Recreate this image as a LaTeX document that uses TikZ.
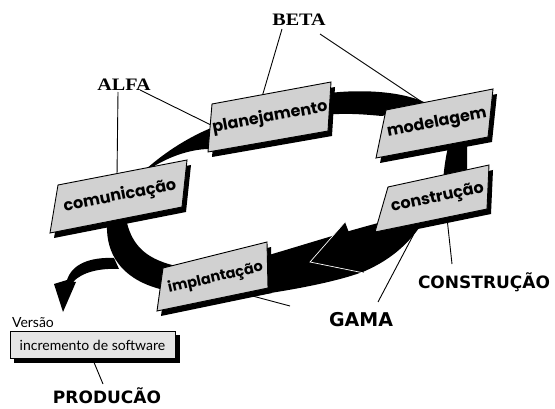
\documentclass[tikz,border=0pt]{standalone}
\usepackage{fontspec}
\usetikzlibrary{calc}
\newfontfamily\boxfont{Poppins}
\newfontfamily\plainfont{Lato}
\newfontfamily\serifbold[FakeStretch=1.15]{Liberation Serif}
\newfontfamily\capsfont{DejaVu Sans}
\tikzset{
 ribbon/.style={fill=black},
 conn/.style={draw=black, line width=0.9pt},
 boxshadow/.style={fill=black},
 boxface/.style={fill=black!18, draw=black, line width=0.9pt},
 incface/.style={fill=black!10, draw=black, line width=0.9pt},
 boxtext/.style={font=\boxfont\bfseries\fontsize{16}{16}\selectfont, inner sep=0pt},
 greek/.style={font=\serifbold\bfseries\fontsize{17.5}{17.5}\selectfont, inner sep=0pt},
 phase/.style={font=\capsfont\bfseries\fontsize{17}{17}\selectfont, inner sep=0pt},
 plain/.style={font=\plainfont\fontsize{14}{14}\selectfont, inner sep=0pt},
 edgeline/.style={draw=white, line width=0.7pt},
}
\newcommand{\slbox}[7]{%
  \fill[boxshadow,shift={(4,5)}] #2 -- #3 -- #4 -- #5 -- cycle;
  \path[boxface] #2 -- #3 -- #4 -- #5 -- cycle;
  \node[boxtext,rotate=#6] (#1) at ($#2!0.5!#4$) {#7};
}
\begin{document}
\begin{tikzpicture}[x=1pt,y=-1pt]
\useasboundingbox[fill=white] (0,0) rectangle (555,409);
% ---- ribbon ----
% comunicacao -> planejamento
\fill[ribbon] (145,170) .. controls (165,152) and (190,136) .. (216,126)
  -- (214,149) .. controls (190,148) and (165,158) .. (145,172) -- cycle;
% planejamento -> modelagem
\fill[ribbon] (322,94) .. controls (355,89) and (402,90) .. (428,104)
  -- (382,116) .. controls (360,114) and (345,113) .. (322,115) -- cycle;
% modelagem -> construcao
\fill[ribbon] (450,138) .. controls (446,155) and (444,167) .. (443,182)
  -- (467,182) -- (467,138) -- cycle;
% construcao -> implantacao
\fill[ribbon] (382,222) .. controls (340,233) and (300,246) .. (262,257)
  -- (264,294) .. controls (310,287) and (345,279) .. (365,271)
  .. controls (392,259) and (412,242) .. (428,214) -- (405,212) -- cycle;
% arrowhead
\fill[ribbon] (310,262) -- (345,222) -- (364,273) -- cycle;
\coordinate (tipA) at (310,262);
\coordinate (barbU) at (345,222);
\coordinate (barbL) at (364,273);
\draw[edgeline] (barbU) -- (tipA) -- (barbL);
% implantacao -> comunicacao (U)
\fill[ribbon] (106,212) -- (107,230) .. controls (108,258) and (125,281) .. (164,290)
  -- (172,265) .. controls (146,258) and (129,245) .. (125,212) -- cycle;
% branch to Versao
\fill[ribbon] (114,258) .. controls (90,257) and (72,264) .. (67,280)
  -- (54,284) -- (63,312) -- (76,282) -- (73,282)
  .. controls (82,272) and (100,268) .. (119,269) -- cycle;
% ---- labels ----
\node[greek] (alfa) at (124,85) {ALFA};
\node[greek] (beta) at (299,20) {BETA};
\node[phase] (constr) at (484,282) {CONSTRUÇÃO};
\node[phase,font=\capsfont\bfseries\fontsize{19}{19}\selectfont] (gama) at (361,320) {GAMA};
\node[phase] (prod) at (107,396) {PRODUCÃO};
\node[plain] (versao) at (33,323) {Versão};
% ---- connectors ----
\coordinate (a1s) at (118,92);  \coordinate (a1e) at (117,176);
\coordinate (a2s) at (140,90);  \coordinate (a2e) at (213,126);
\coordinate (b1s) at (282,29);  \coordinate (b1e) at (262,97);
\coordinate (b2s) at (320,34);  \coordinate (b2e) at (422,102);
\coordinate (g1s) at (378,302); \coordinate (g1e) at (417,228);
\coordinate (g2s) at (290,306); \coordinate (g2e) at (245,294);
\coordinate (c1s) at (452,264); \coordinate (c1e) at (447,218);
\coordinate (p1s) at (103,384); \coordinate (p1e) at (93,360);
\draw[conn] (a1s) -- (a1e);
\draw[conn] (a2s) -- (a2e);
\draw[conn] (b1s) -- (b1e);
\draw[conn] (b2s) -- (b2e);
\draw[conn] (g1s) -- (g1e);
\draw[conn] (g2s) -- (g2e);
\draw[conn] (c1s) -- (c1e);
\draw[conn] (p1s) -- (p1e);
% ---- boxes ----
\slbox{plan}{(212,104)}{(331,82)}{(328,131)}{(208,152)}{10.5}{planejamento}
\slbox{model}{(386,110)}{(493,89)}{(488,137)}{(376,158)}{11}{modelagem}
\slbox{constbox}{(388,187)}{(489,165)}{(487,209)}{(375,232)}{12}{construção}
\slbox{comm}{(58,185)}{(187,160)}{(182,207)}{(50,233)}{11}{comunicação}
\slbox{impl}{(163,268)}{(267,242)}{(268,288)}{(157,311)}{13}{\fontsize{14.5}{14.5}\selectfont implantação}
% incremento
\fill[boxshadow] (14,335) rectangle (180,363);
\path[incface] (10,331) rectangle (175,358);
\node[plain] (inc) at (92.5,345) {incremento de software};
\end{tikzpicture}
\end{document}
